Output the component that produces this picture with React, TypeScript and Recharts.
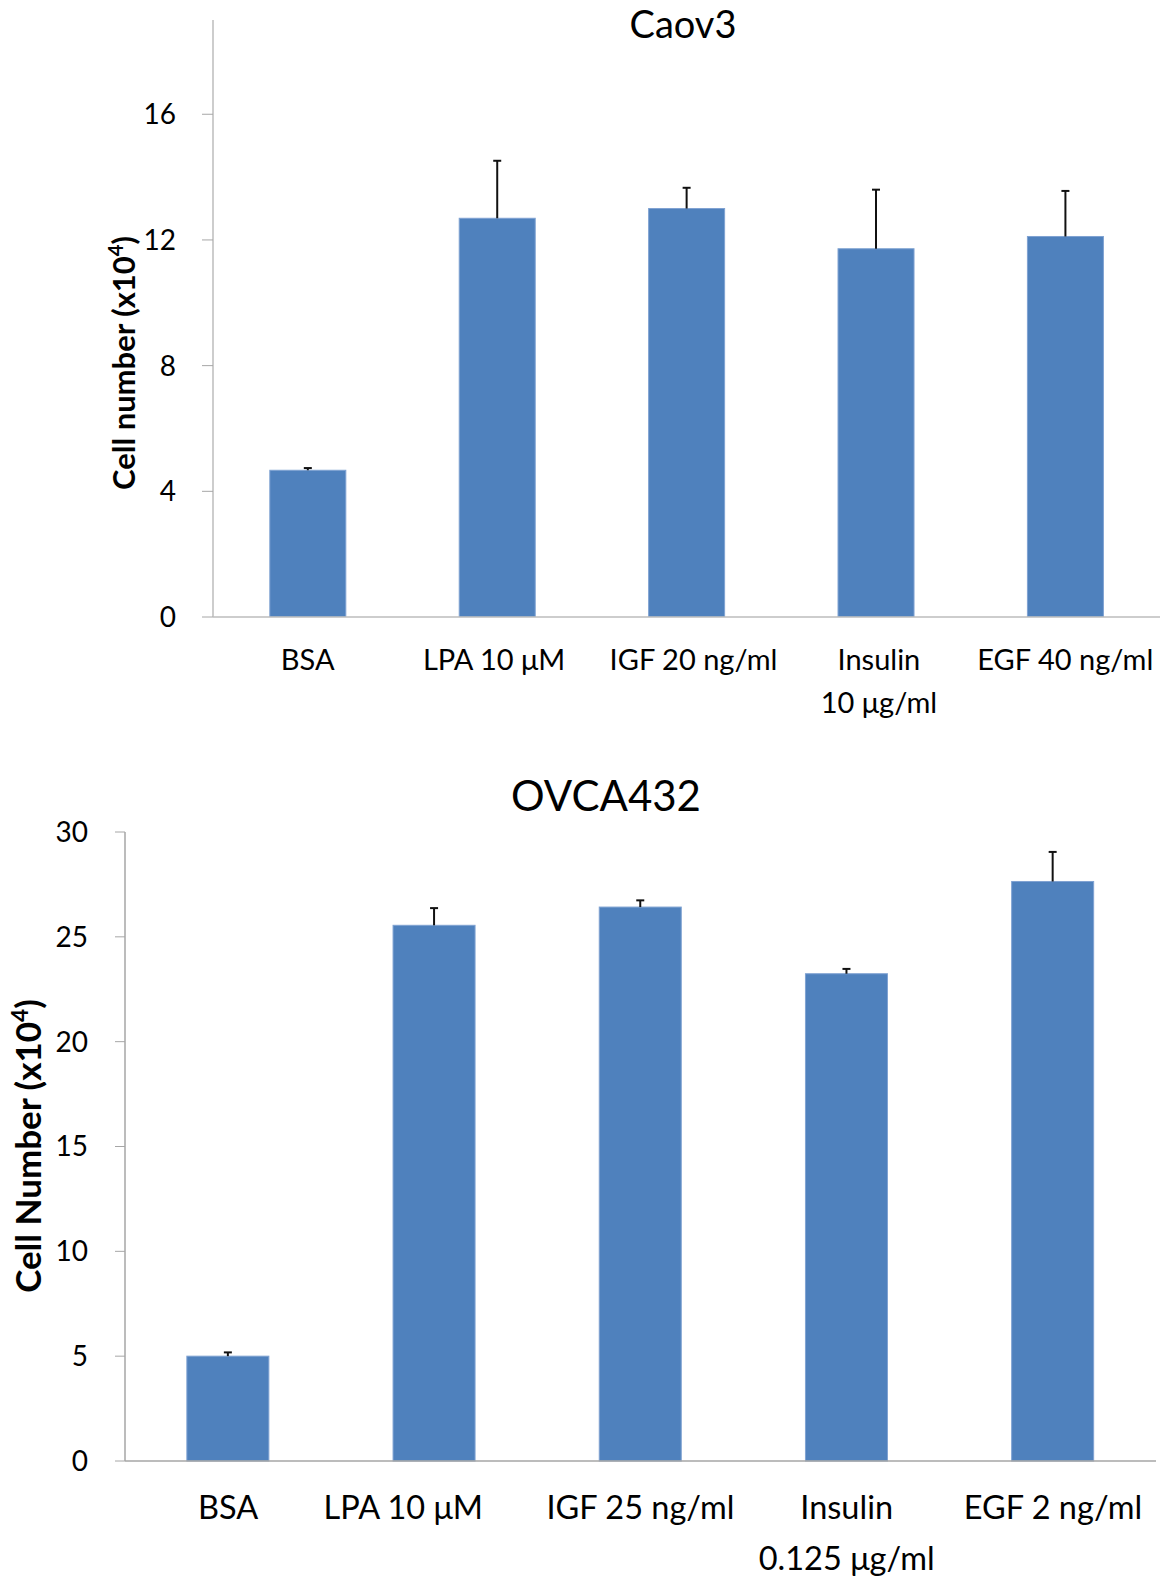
import React from "react";
import { BarChart, Bar, XAxis, YAxis, Label } from "recharts";

const FONT = "Lato, 'Open Sans', sans-serif";
const BAR_BLUE = "#4F81BD";

// Caov3 panel
const caovCategories = ["BSA", "LPA 10 μM", "IGF 20 ng/ml", "Insulin\n10 μg/ml", "EGF 40 ng/ml"];
const caovValues = [4.67, 12.69, 13.0, 11.72, 12.11];
const caovErrors = [0.07, 1.83, 0.66, 1.88, 1.45];
const caovTicks = [0, 4, 8, 12, 16];

// OVCA432 panel
const ovcaCategories = ["BSA", "LPA 10 μM", "IGF 25 ng/ml", "Insulin\n0.125 μg/ml", "EGF 2 ng/ml"];
const ovcaValues = [5.0, 25.55, 26.42, 23.24, 27.64];
const ovcaErrors = [0.18, 0.82, 0.32, 0.23, 1.41];
const ovcaTicks = [0, 5, 10, 15, 20, 25, 30];

// small horizontal nudges of the category labels, as placed in the original
const caovLabelShift = [0, -3, 7, 3, 0];
const ovcaLabelShift = [0, -31, 0, 0, 0];

const caovData = caovCategories.map((name, i) => ({ name, value: caovValues[i], err: caovErrors[i] }));
const ovcaData = ovcaCategories.map((name, i) => ({ name, value: ovcaValues[i], err: ovcaErrors[i] }));

// bar + plus-direction error bar (Excel style, cap only on top)
function BarWithError(props: any) {
  const { x, y, width, height, payload } = props;
  const perUnit = payload.value > 0 ? height / payload.value : 0;
  const errPx = payload.err * perUnit;
  const cx = x + width / 2;
  const top = y - errPx;
  return (
    <g>
      <rect x={x} y={y} width={width} height={height} fill={BAR_BLUE} stroke="#7FA2D2" strokeWidth={1} />
      <line x1={cx} x2={cx} y1={y} y2={top} stroke="#111" strokeWidth={2} />
      <line x1={cx - 4} x2={cx + 4} y1={top} y2={top} stroke="#111" strokeWidth={2} />
    </g>
  );
}

function CategoryTick({ x, y, payload, index, fontSize, firstDy, lineGap, shifts }: any) {
  const lines = String(payload.value).split("\n");
  const tx = x + (shifts?.[index] ?? 0);
  return (
    <text x={tx} y={y} textAnchor="middle" fill="#000" fontSize={fontSize} fontFamily={FONT}>
      {lines.map((l, i) => (
        <tspan key={i} x={tx} dy={i === 0 ? firstDy : lineGap}>
          {l}
        </tspan>
      ))}
    </text>
  );
}

function AxisTitle({ cx, cy, fontSize, text }: any) {
  return (
    <text
      x={cx}
      y={cy}
      transform={`rotate(-90 ${cx} ${cy})`}
      textAnchor="middle"
      fontFamily={FONT}
      fontWeight="bold"
      fontSize={fontSize}
      fill="#000"
      dy="0.35em"
    >
      {text} (x10
      <tspan dy={-fontSize * 0.38} fontSize={fontSize * 0.65}>
        4
      </tspan>
      <tspan dy={fontSize * 0.38}>)</tspan>
    </text>
  );
}

function Title({ text, left, top, size }: { text: string; left: number; top: number; size: number }) {
  return (
    <div
      style={{
        position: "absolute",
        left: left - 200,
        top,
        width: 400,
        textAlign: "center",
        fontFamily: FONT,
        fontSize: size,
        lineHeight: 1,
        color: "#000",
      }}
    >
      {text}
    </div>
  );
}

export default function App() {
  return (
    <div style={{ position: "absolute", left: 0, top: 0, width: 1162, height: 1579, background: "#fff" }}>
      <Title text="Caov3" left={683} top={4} size={38} />
      <div style={{ position: "absolute", left: 0, top: 0 }}>
        <BarChart
          width={1162}
          height={730}
          data={caovData}
          margin={{ top: 20, right: 2, bottom: 0, left: 0 }}
          barCategoryGap="30%"
        >
          <XAxis
            dataKey="name"
            height={113}
            axisLine={{ stroke: "#BDBDBD", strokeWidth: 1.5 }}
            tickLine={false}
            tickSize={0}
            tickMargin={0}
            interval={0}
            tick={<CategoryTick fontSize={29} firstDy={53} lineGap={43} shifts={caovLabelShift} />}
          />
          <YAxis
            width={213}
            domain={[0, 19]}
            ticks={caovTicks}
            allowDataOverflow
            axisLine={{ stroke: "#BDBDBD", strokeWidth: 1.5 }}
            tickLine={{ stroke: "#A6A6A6" }}
            tickSize={11}
            tickMargin={26}
            tick={{ fill: "#000", fontSize: 28, fontFamily: FONT }}
          >
            <Label content={() => <AxisTitle cx={124} cy={363} fontSize={31} text="Cell number" />} />
          </YAxis>
          <Bar dataKey="value" shape={<BarWithError />} isAnimationActive={false} />
        </BarChart>
      </div>

      <Title text="OVCA432" left={606} top={774} size={42} />
      <div style={{ position: "absolute", left: 0, top: 730 }}>
        <BarChart
          width={1162}
          height={849}
          data={ovcaData}
          margin={{ top: 102, right: 6, bottom: 0, left: 0 }}
          barCategoryGap="30%"
        >
          <XAxis
            dataKey="name"
            height={118}
            axisLine={{ stroke: "#A6A6A6", strokeWidth: 1.5 }}
            tickLine={false}
            tickSize={0}
            tickMargin={0}
            interval={0}
            tick={<CategoryTick fontSize={32.5} firstDy={58} lineGap={51} shifts={ovcaLabelShift} />}
          />
          <YAxis
            width={125}
            domain={[0, 30]}
            ticks={ovcaTicks}
            axisLine={{ stroke: "#A6A6A6", strokeWidth: 1.5 }}
            tickLine={{ stroke: "#A6A6A6" }}
            tickSize={10}
            tickMargin={27}
            tick={{ fill: "#000", fontSize: 28, fontFamily: FONT }}
          >
            <Label content={() => <AxisTitle cx={29} cy={416} fontSize={35} text="Cell Number" />} />
          </YAxis>
          <Bar dataKey="value" shape={<BarWithError />} isAnimationActive={false} />
        </BarChart>
      </div>
    </div>
  );
}
